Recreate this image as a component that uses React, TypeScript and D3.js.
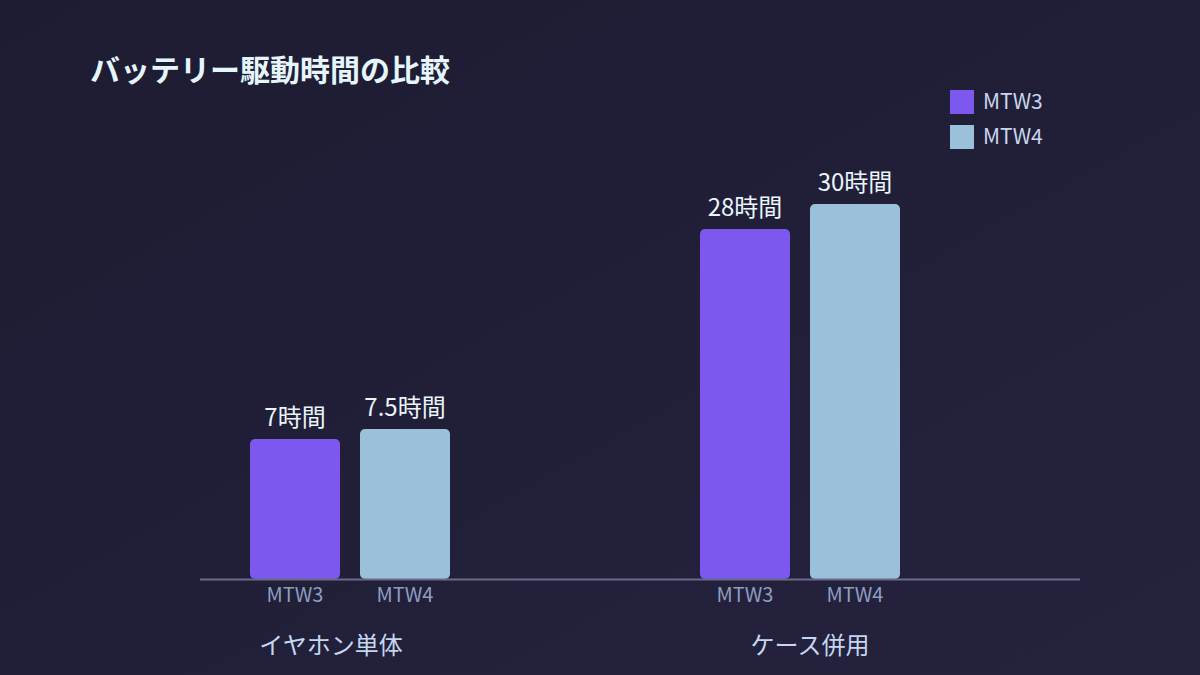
import * as d3 from "d3";
import { useEffect, useRef } from "react";

const groups = ["イヤホン単体", "ケース併用"];
const models = ["MTW3", "MTW4"];
const earbudsHours = [7, 7.5];
const caseHours = [28, 30];
const valueLabels = [
  ["7時間", "7.5時間"],
  ["28時間", "30時間"],
];
// each group is drawn against its own scale maximum
const groupMax = [20, 32];

const colors = ["#7c58ee", "#9bc0d9"];
// group captions are not exactly centred under their bars
const groupLabelShift = [-19, 10];

export default function App() {
  const ref = useRef<SVGSVGElement | null>(null);

  useEffect(() => {
    if (!ref.current) return;
    const width = 1200;
    const height = 675;
    const baseY = 579;
    const topY = 179;

    const svg = d3.select(ref.current);
    svg.selectAll("*").remove();

    const defs = svg.append("defs");
    const grad = defs
      .append("linearGradient")
      .attr("id", "bg")
      .attr("x1", "0%")
      .attr("y1", "0%")
      .attr("x2", "100%")
      .attr("y2", "100%");
    grad.append("stop").attr("offset", "0%").attr("stop-color", "#1d1c32");
    grad.append("stop").attr("offset", "100%").attr("stop-color", "#25223e");

    svg.append("rect").attr("width", width).attr("height", height).attr("fill", "url(#bg)");

    const font = "'Noto Sans CJK JP', 'Noto Sans', sans-serif";

    svg
      .append("text")
      .attr("x", 90)
      .attr("y", 81)
      .text("バッテリー駆動時間の比較")
      .style("font-family", font)
      .style("font-weight", 700)
      .style("font-size", "30px")
      .style("fill", "#e4f6fb");

    const x0 = d3.scaleBand<string>().domain(groups).range([125, 1025]);
    const x1 = d3.scaleBand<string>().domain(models).range([-100, 100]).paddingInner(20 / 110);

    const data = [earbudsHours, caseHours];

    data.forEach((vals, gi) => {
      const y = d3.scaleLinear().domain([0, groupMax[gi]]).range([baseY, topY]);
      const cx = x0(groups[gi])! + x0.bandwidth() / 2;
      const g = svg.append("g").attr("transform", `translate(${cx},0)`);

      vals.forEach((v, mi) => {
        const bx = x1(models[mi])!;
        g.append("rect")
          .attr("x", bx)
          .attr("y", y(v))
          .attr("width", x1.bandwidth())
          .attr("height", baseY - y(v))
          .attr("rx", 5)
          .attr("fill", colors[mi]);

        g.append("text")
          .attr("x", bx + x1.bandwidth() / 2)
          .attr("y", y(v) - 13)
          .attr("text-anchor", "middle")
          .text(valueLabels[gi][mi])
          .style("font-family", font)
          .style("font-size", "24px")
          .style("fill", "#eaf4fb");

        g.append("text")
          .attr("x", bx + x1.bandwidth() / 2)
          .attr("y", 602)
          .attr("text-anchor", "middle")
          .text(models[mi])
          .style("font-family", font)
          .style("font-size", "20px")
          .style("fill", "#8d9dc0");
      });

      g.append("text")
        .attr("x", groupLabelShift[gi])
        .attr("y", 654)
        .attr("text-anchor", "middle")
        .text(groups[gi])
        .style("font-family", font)
        .style("font-size", "24px")
        .style("fill", "#c5d7f0");
    });

    svg
      .append("line")
      .attr("x1", 200)
      .attr("x2", 1080)
      .attr("y1", baseY + 0.5)
      .attr("y2", baseY + 0.5)
      .attr("stroke", "#6a6b8a")
      .attr("stroke-width", 2);

    const leg = svg.append("g").attr("transform", "translate(950,90)");
    models.forEach((m, i) => {
      const row = leg.append("g").attr("transform", `translate(0,${i * 35})`);
      row.append("rect").attr("width", 24).attr("height", 24).attr("fill", colors[i]);
      row
        .append("text")
        .attr("x", 33)
        .attr("y", 19)
        .text(m)
        .style("font-family", font)
        .style("font-size", "21px")
        .style("fill", "#c9d5ec");
    });
  }, []);

  return (
    <svg
      ref={ref}
      width={1200}
      height={675}
      style={{ position: "absolute", left: 0, top: 0, display: "block" }}
    />
  );
}
